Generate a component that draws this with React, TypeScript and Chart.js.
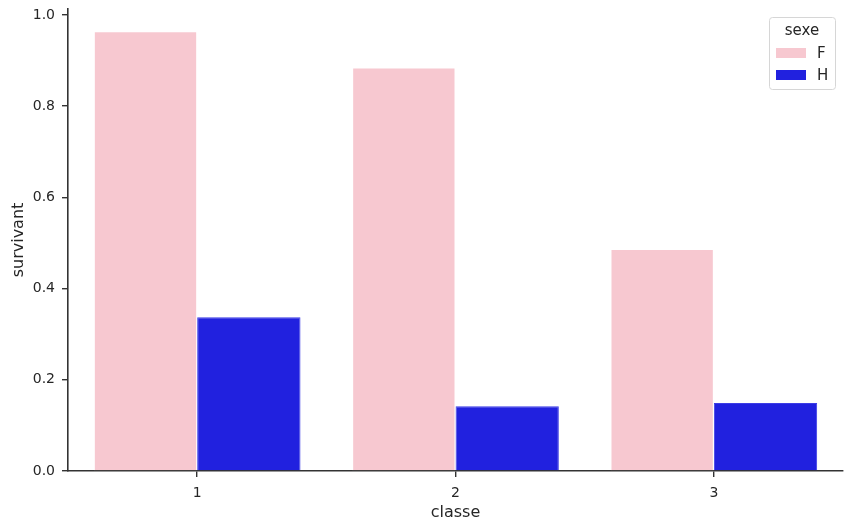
import { useEffect, useRef } from "react"
import { Chart, registerables } from "chart.js"

Chart.register(...registerables)

const classes = ["1", "2", "3"]
const femmes = [0.964, 0.885, 0.487]
const hommes = [0.337, 0.142, 0.149]
const yTicks = [0, 0.2, 0.4, 0.6, 0.8, 1.0]

const PINK = "#f7c8d0"
const BLUE = "#2121df"
const INK = "#262626"
const FONT = "'DejaVu Sans', sans-serif"

// legend drawn by hand so it gets a title and a rounded box like matplotlib's
const legendBox = {
  id: "legendBox",
  afterDraw(chart: Chart) {
    const ctx = chart.ctx
    const x = 769
    const y = 17
    const w = 66
    const h = 72
    ctx.save()
    ctx.beginPath()
    ctx.roundRect(x + 0.5, y + 0.5, w, h, 3)
    ctx.fillStyle = "rgba(255,255,255,0.8)"
    ctx.fill()
    ctx.strokeStyle = "#d6d6d6"
    ctx.lineWidth = 1
    ctx.stroke()

    ctx.fillStyle = INK
    ctx.font = `15px ${FONT}`
    ctx.textAlign = "center"
    ctx.textBaseline = "middle"
    ctx.fillText("sexe", x + w / 2, y + 14)

    const items = [
      { label: "F", color: PINK },
      { label: "H", color: BLUE },
    ]
    ctx.textAlign = "left"
    items.forEach((it, i) => {
      const cy = y + 36 + i * 22
      ctx.fillStyle = it.color
      ctx.fillRect(x + 7, cy - 5, 30, 10)
      ctx.fillStyle = INK
      ctx.fillText(it.label, x + 48, cy + 1)
    })
    ctx.restore()
  },
}

export default function App() {
  const canvasRef = useRef<HTMLCanvasElement>(null)

  useEffect(() => {
    document.body.style.margin = "0"
    if (!canvasRef.current) return
    const chart = new Chart(canvasRef.current, {
      type: "bar",
      data: {
        labels: classes,
        datasets: [
          {
            label: "F",
            data: femmes,
            backgroundColor: PINK,
            borderColor: "#ffffff",
            borderWidth: 1,
          },
          {
            label: "H",
            data: hommes,
            backgroundColor: BLUE,
            borderColor: "#3c3ce6",
            borderWidth: 1,
          },
        ],
      },
      options: {
        animation: false,
        responsive: false,
        devicePixelRatio: 1,
        layout: { padding: { top: 9, right: 10, left: 0, bottom: 0 } },
        datasets: { bar: { categoryPercentage: 0.8, barPercentage: 1 } },
        plugins: {
          legend: { display: false },
          tooltip: { enabled: false },
        },
        scales: {
          x: {
            offset: true,
            afterFit: (s: any) => {
              s.height = 59
              s.paddingLeft = 0
              s.paddingRight = 0
            },
            grid: {
              display: true,
              offset: false,
              drawOnChartArea: false,
              drawTicks: true,
              tickLength: 6,
              color: "#333333",
              lineWidth: 1.4,
            },
            border: { display: true, color: "#333333", width: 1.6 },
            ticks: { color: INK, font: { family: FONT, size: 14 }, padding: 8 },
            title: {
              display: true,
              text: "classe",
              color: INK,
              font: { family: FONT, size: 16 },
              padding: { top: 0, bottom: 8 },
            },
          },
          y: {
            min: 0,
            max: 1.013,
            afterFit: (s: any) => {
              s.width = 68
              s.paddingTop = 0
              s.paddingBottom = 0
            },
            afterBuildTicks: (s: any) => {
              s.ticks = yTicks.map((v) => ({ value: v }))
            },
            grid: {
              display: true,
              drawOnChartArea: false,
              drawTicks: true,
              tickLength: 6,
              color: "#333333",
              lineWidth: 1.4,
            },
            border: { display: true, color: "#333333", width: 1.6 },
            ticks: {
              color: INK,
              font: { family: FONT, size: 14 },
              padding: 7,
              callback: (v: any) => Number(v).toFixed(1),
            },
            title: {
              display: true,
              text: "survivant",
              color: INK,
              font: { family: FONT, size: 16 },
              padding: { top: 9, bottom: 4 },
            },
          },
        },
      },
      plugins: [legendBox],
    })
    return () => chart.destroy()
  }, [])

  return (
    <div style={{ width: 853, height: 530, background: "#fff" }}>
      <canvas ref={canvasRef} width={853} height={530} />
    </div>
  )
}
